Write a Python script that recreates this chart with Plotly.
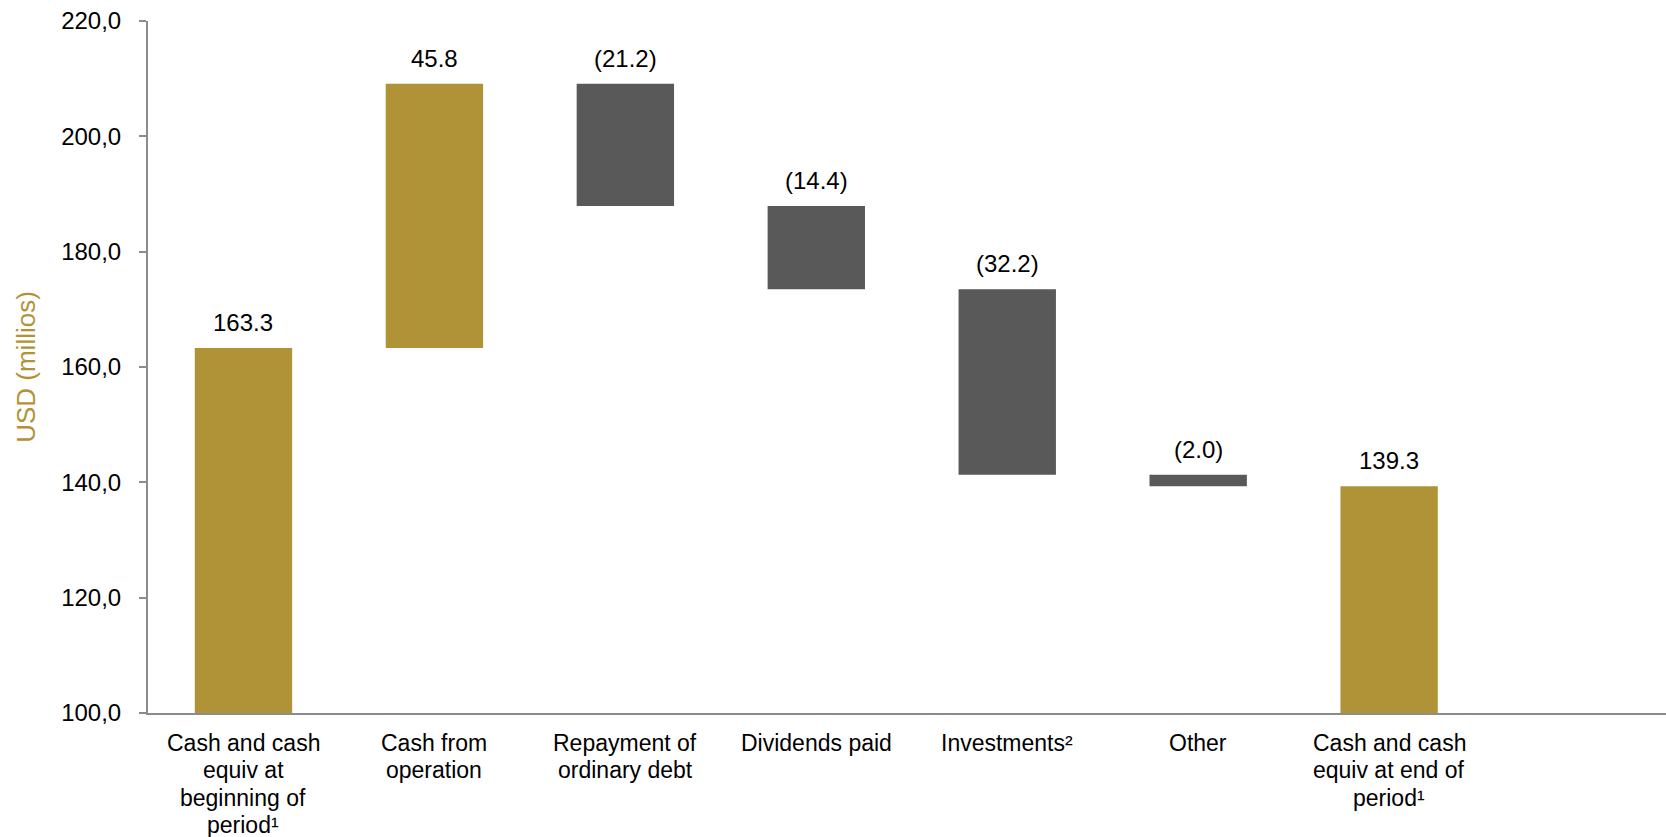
import plotly.graph_objects as go

# Cash bridge: opening balance, movements, closing balance (USD millions)
categories = [
    "Cash and cash<br>equiv at<br>beginning of<br>period¹",
    "Cash from<br>operation",
    "Repayment of<br>ordinary debt",
    "Dividends paid",
    "Investments²",
    "Other",
    "Cash and cash<br>equiv at end of<br>period¹",
]
values = [163.3, 45.8, -21.2, -14.4, -32.2, -2.0, 139.3]
kinds = ["total", "relative", "relative", "relative", "relative", "relative", "total"]

y_ticks = [100, 120, 140, 160, 180, 200, 220]
y_tick_labels = ["100,0", "120,0", "140,0", "160,0", "180,0", "200,0", "220,0"]

GOLD = "#B19337"
GREY = "#595959"
AXIS = "#8C8C8C"
FONT = "Liberation Sans, Arial, sans-serif"

# running totals -> floating bar base and height
bases, heights, tops, colors, labels = [], [], [], [], []
running = 0.0
for v, k in zip(values, kinds):
    if k == "total":
        bases.append(0.0)
        heights.append(v)
        running = v
        tops.append(v)
        colors.append(GOLD)
        labels.append(f"{v:.1f}")
    else:
        start = running
        running = running + v
        bases.append(min(start, running))
        heights.append(abs(v))
        tops.append(max(start, running))
        colors.append(GOLD if v >= 0 else GREY)
        labels.append(f"{v:.1f}" if v >= 0 else f"({abs(v):.1f})")

xs = list(range(len(categories)))

fig = go.Figure(
    go.Bar(
        x=xs,
        y=heights,
        base=bases,
        width=0.51,
        marker=dict(color=colors, line=dict(width=0)),
        hoverinfo="skip",
    )
)

# value labels above each bar
for x, top, lab in zip(xs, tops, labels):
    fig.add_annotation(
        x=x, y=top, text=lab, showarrow=False,
        xanchor="center", yanchor="bottom", yshift=10,
        font=dict(family=FONT, size=24, color="#000000"),
    )

# category labels under the axis, one line at a time for tighter leading
LINE_GAP = 27.3
for x, cat in zip(xs, categories):
    for i, line in enumerate(cat.split("<br>")):
        fig.add_annotation(
            x=x, xref="x", y=0, yref="paper", text=line, showarrow=False,
            xanchor="center", yanchor="middle", yshift=-(30 + i * LINE_GAP),
            font=dict(family=FONT, size=23, color="#000000"),
        )

fig.update_layout(
    width=1666, height=837,
    margin=dict(l=148, r=0, t=21, b=124),
    paper_bgcolor="white", plot_bgcolor="white",
    showlegend=False,
    font=dict(family=FONT, size=23, color="#000000"),
)

fig.update_xaxes(
    range=[-0.5, 7.45],
    tickvals=xs, showticklabels=False,
    showline=True, linecolor=AXIS, linewidth=2,
    ticks="", showgrid=False, zeroline=False,
    automargin=False,
)

fig.update_yaxes(
    range=[100, 220],
    tickvals=y_ticks, ticktext=y_tick_labels,
    showline=True, linecolor=AXIS, linewidth=2,
    ticks="outside", ticklen=7, tickcolor=AXIS, tickwidth=2,
    showgrid=False, zeroline=False,
    tickfont=dict(family=FONT, size=24, color="#000000"),
    ticklabelstandoff=13,
    title=dict(text="USD (millios)", font=dict(family=FONT, size=26, color=GOLD), standoff=18),
    automargin=False,
)

fig.write_html("out.html")
